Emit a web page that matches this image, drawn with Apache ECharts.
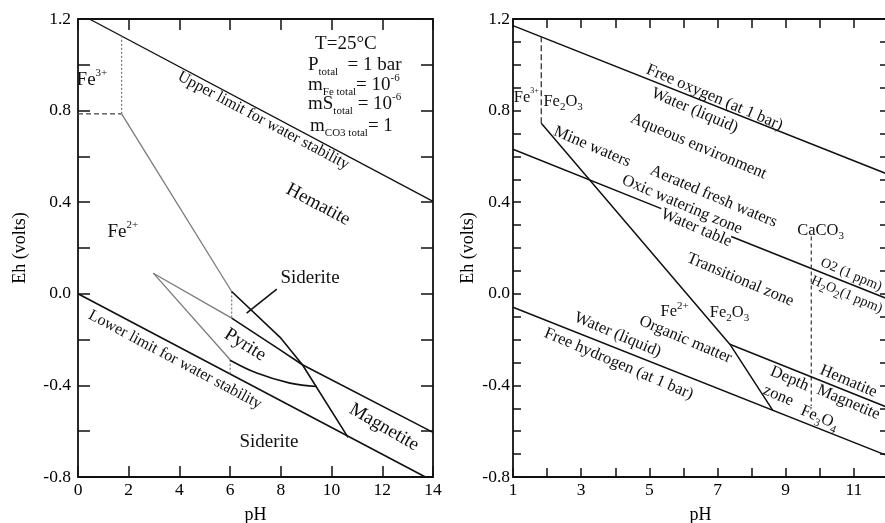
<!DOCTYPE html>
<html><head><meta charset="utf-8">
<script src="https://cdn.jsdelivr.net/npm/echarts@6/dist/echarts.min.js"></script>
<style>html,body{margin:0;padding:0;background:#fff}#c{width:885px;height:523px}</style>
</head><body><div id="c"></div>
<script>
// ---------- Left diagram (pH 0-14) ----------
const upperLimitL = [[0.45,1.2],[14,0.404]];
const lowerLimitL = [[0,0],[13.7,-0.8]];
const fe3Fe2L = [[0,0.786],[1.72,0.786]];
const fe3HemL = [[1.72,0.786],[1.72,1.128]];
const fe2HemL = [[1.72,0.786],[6.06,0.01]];
const sidHemGrayL = [[6.06,0.01],[6.06,-0.106]];
const pyriteTopL = [[2.97,0.09],[6.06,-0.106]];
const pyriteLowL = [[2.97,0.09],[6.0,-0.288]];
const pyriteVertL = [[6.0,-0.288],[6.0,-0.354]];
const sidMagSteepL = [[6.06,0.01],[7.97,-0.19],[8.85,-0.31],[10.65,-0.627]];
const magTopL = [[6.06,-0.106],[7.97,-0.245],[8.85,-0.31],[14,-0.605]];
const pyrBottomL = [[6.0,-0.29],[7.05,-0.346],[8.36,-0.39],[9.42,-0.405]];
const pointerL = [[7.84,0.02],[6.65,-0.084]];

// ---------- Right diagram (pH 1-12) ----------
const freeO2R = [[1,1.171],[12,0.522]];
const freeH2R = [[1,-0.059],[12,-0.708]];
const fe3Fe2O3R = [[1.83,0.745],[1.83,1.122]];
const fe2Fe2O3R = [[1.83,0.745],[7.36,-0.22],[8.62,-0.509]];
const waterTableR1 = [[1,0.631],[5.35,0.372]];
const waterTableR2 = [[7.4,0.25],[12,-0.023]];
const caco3R = [[9.75,0.25],[9.75,-0.49]];
const hemMagR = [[7.36,-0.22],[12,-0.497]];

// tick labels
const xTicksL = [0,2,4,6,8,10,12,14];
const xTicksR = [1,3,5,7,9,11];
const yTicks = [-0.8,-0.4,0.0,0.4,0.8,1.2];

// text labels: [pH, Eh, text, rotate, fontSize, align]
const labelsL = [
  [0.55, 0.934, 'Fe{sup|3+}', 0, 19],
  [1.77, 0.27, 'Fe{sup|2+}', 0, 19],
  [7.31, 0.756, 'Upper limit for water stability', -28, 16],
  [9.47, 0.389, 'Hematite', -28, 19],
  [9.35, 1.09, 'T=25°C', 0, 19, 'left'],
  [9.07, 1.0, 'P{sub|total}  = 1 bar', 0, 19, 'left'],
  [9.07, 0.912, 'm{sub|Fe total}= 10{sup|-6}', 0, 19, 'left'],
  [9.07, 0.828, 'mS{sub|total} = 10{sup|-6}', 0, 19, 'left'],
  [9.15, 0.732, 'm{sub|CO3 total}= 1', 0, 19, 'left'],
  [9.15, 0.07, 'Siderite', 0, 19],
  [6.59, -0.223, 'Pyrite', -32, 19],
  [3.83, -0.288, 'Lower limit for water stability', -28, 16],
  [7.53, -0.646, 'Siderite', 0, 19],
  [12.07, -0.583, 'Magnetite', -30, 19]
];
const labelsR = [
  [1.39, 0.856, 'Fe{sups|3+}', 0, 16.5],
  [2.47, 0.84, 'Fe{sub|2}O{sub|3}', 0, 16.5],
  [6.91, 0.857, 'Free oxygen (at 1 bar)', -23, 16.5],
  [6.33, 0.80, 'Water (liquid)', -23, 16.5],
  [6.44, 0.644, 'Aqueous environment', -23, 16.5],
  [3.32, 0.642, 'Mine waters', -23, 16.5],
  [6.88, 0.425, 'Aerated fresh waters', -23, 16.5],
  [5.96, 0.389, 'Oxic watering zone', -23, 16.5],
  [6.38, 0.288, 'Water table', -23, 16.5],
  [10.02, 0.277, 'CaCO{sub|3}', 0, 16.5],
  [10.92, 0.083, 'O2 (1 ppm)', -23, 14],
  [10.79, -0.004, 'H{sub|2}O{sub|2}(1 ppm)', -23, 14],
  [7.67, 0.061, 'Transitional zone', -23, 16.5],
  [5.74, -0.077, 'Fe{sup|2+}', 0, 16.5],
  [7.35, -0.081, 'Fe{sub|2}O{sub|3}', 0, 16.5],
  [6.06, -0.2, 'Organic matter', -23, 16.5],
  [4.07, -0.179, 'Water (liquid)', -23, 16.5],
  [4.1, -0.306, 'Free hydrogen (at 1 bar)', -23, 16.5],
  [9.11, -0.371, 'Depth', -23, 16.5],
  [8.78, -0.445, 'zone', -23, 16.5],
  [10.84, -0.382, 'Hematite', -23, 16.5],
  [10.84, -0.474, 'Magnetite', -23, 16.5],
  [9.99, -0.541, 'Fe{sub|3}O{sub|4}', -23, 16.5]
];

const F = '"Liberation Serif", "Times New Roman", serif';
const INK = '#111';
const rich = {
  sup: {fontSize: 11, lineHeight: 12, verticalAlign: 'top', fontFamily: F, color: INK},
  sups: {fontSize: 8, lineHeight: 10, verticalAlign: 'top', fontFamily: F, color: INK},
  sub: {fontSize: 11, lineHeight: 10, verticalAlign: 'bottom', fontFamily: F, color: INK}
};

function line(data, gi, opt) {
  opt = opt || {};
  return {
    type: 'line', xAxisIndex: gi, yAxisIndex: gi, data: data, symbol: 'none',
    silent: true, animation: false, smooth: opt.smooth || false, z: 3,
    lineStyle: {color: opt.color || INK, width: opt.width || 1.4, type: opt.type || 'solid'}
  };
}
function labels(items, gi) {
  return {
    type: 'scatter', xAxisIndex: gi, yAxisIndex: gi, symbolSize: 0, silent: true,
    animation: false, z: 5, itemStyle: {opacity: 1},
    label: {show: true, position: 'inside', color: INK, fontFamily: F, rich: rich},
    data: items.map(d => ({
      value: [d[0], d[1]],
      itemStyle: {opacity: 1},
      label: {show: true, formatter: d[2], rotate: d[3] || 0, fontSize: d[4] || 16, color: INK,
              lineHeight: (d[4] || 16) + 6, align: d[5] || 'center', verticalAlign: 'middle'}
    }))
  };
}

const axisLine = {show: true, onZero: false, lineStyle: {color: INK, width: 1.8}};
const lbl = {fontFamily: F, fontSize: 17.5, color: '#000'};
function xAx(gi, pos, min, max, interval, ticks, tickLen, show, name) {
  return {
    type: 'value', gridIndex: gi, position: pos, min: min, max: max, interval: interval,
    axisLine: axisLine, splitLine: {show: false},
    axisTick: {show: true, inside: true, length: tickLen, lineStyle: {color: INK, width: 1.5}},
    axisLabel: Object.assign({show: show, margin: 4,
      formatter: v => ticks.indexOf(v) >= 0 ? String(v) : ''}, lbl),
    name: name || '', nameLocation: 'middle', nameGap: 29,
    nameTextStyle: {fontFamily: F, fontSize: 18, color: '#000'}
  };
}
function yAx(gi, pos, interval, tickLen, show, margin, gap) {
  return {
    type: 'value', gridIndex: gi, position: pos, min: -0.8, max: 1.2, interval: interval,
    axisLine: axisLine, splitLine: {show: false},
    axisTick: {show: true, inside: true, length: tickLen, lineStyle: {color: INK, width: 1.5}},
    axisLabel: Object.assign({show: show, margin: margin,
      formatter: v => yTicks.some(t => Math.abs(t - v) < 1e-6) ? v.toFixed(1) : ''}, lbl),
    name: show ? 'Eh (volts)' : '', nameLocation: 'middle', nameGap: gap,
    nameTextStyle: {fontFamily: F, fontSize: 18, color: '#000'}
  };
}

const option = {
  animation: false,
  backgroundColor: '#fff',
  grid: [
    {left: 78, top: 19, width: 355, height: 458, outerBoundsMode: 'none', containLabel: false},
    {left: 513, top: 19, width: 375, height: 458, outerBoundsMode: 'none', containLabel: false}
  ],
  xAxis: [
    xAx(0, 'bottom', 0, 14, 2, xTicksL, 11, true, 'pH'),
    xAx(1, 'bottom', 1, 12, 1, xTicksR, 9, true, 'pH'),
    xAx(0, 'top', 0, 14, 2, xTicksL, 11, false),
    xAx(1, 'top', 1, 12, 1, xTicksR, 9, false)
  ],
  yAxis: [
    yAx(0, 'left', 0.2, 12, true, 7, 49),
    yAx(1, 'left', 0.1, 8, true, 3, 36),
    yAx(0, 'right', 0.2, 12, false, 0, 0),
    yAx(1, 'right', 0.1, 8, false, 0, 0)
  ],
  series: [
    line(upperLimitL, 0, {width: 1.4}),
    line(lowerLimitL, 0, {width: 1.6}),
    line(fe3Fe2L, 0, {type: [5, 3], width: 1.3, color: '#444'}),
    line(fe3HemL, 0, {type: [2, 2], width: 1.2, color: '#777'}),
    line(fe2HemL, 0, {color: '#7a7a7a', width: 1.3}),
    line(sidHemGrayL, 0, {type: [2, 2], color: '#777', width: 1.2}),
    line(pyriteTopL, 0, {color: '#7a7a7a', width: 1.3}),
    line(pyriteLowL, 0, {color: '#7a7a7a', width: 1.3}),
    line(pyriteVertL, 0, {type: [2, 2], color: '#777', width: 1.2}),
    line(sidMagSteepL, 0, {width: 1.6}),
    line(magTopL, 0, {width: 1.6}),
    line(pyrBottomL, 0, {width: 1.6, smooth: 0.4}),
    line(pointerL, 0, {width: 1.6}),
    line(freeO2R, 1, {width: 1.5}),
    line(freeH2R, 1, {width: 1.5}),
    line(fe3Fe2O3R, 1, {type: [6, 3], width: 1.4, color: '#444'}),
    line(fe2Fe2O3R, 1, {width: 1.5}),
    line(waterTableR1, 1, {width: 1.5}),
    line(waterTableR2, 1, {width: 1.5}),
    line(caco3R, 1, {type: [4, 3], width: 1.3, color: '#444'}),
    line(hemMagR, 1, {width: 1.5}),
    labels(labelsL, 0),
    labels(labelsR, 1)
  ]
};
const chart = echarts.init(document.getElementById('c'), null, {renderer: 'canvas'});
chart.setOption(option);
</script></body></html>
